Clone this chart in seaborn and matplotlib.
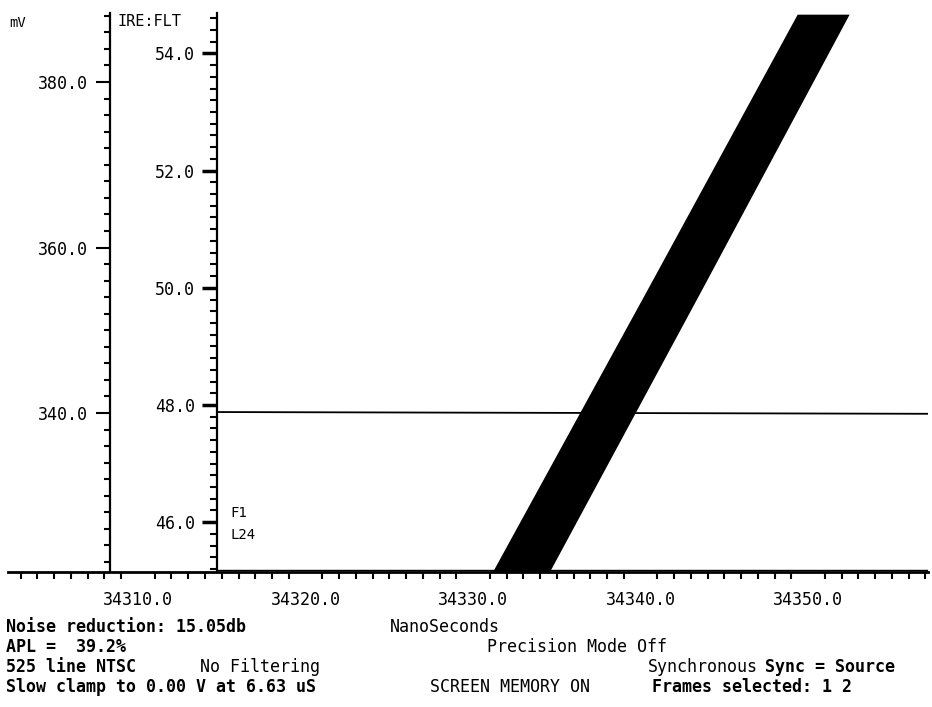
import matplotlib
matplotlib.use("Agg")
import matplotlib.pyplot as plt
from matplotlib.ticker import MultipleLocator, FormatStrFormatter
import pandas as pd
import seaborn as sns

# Axis ranges read from the scope capture
X_LIM = (34302.24, 34357.16)       # nanoseconds
MV_LIM = (320.79, 388.34)          # mV
IRE_LIM = (45.15, 54.69)           # IRE:FLT
MV_AXIS_AT = 34308.33
IRE_AXIS_AT = 34314.72

# Rising edge (drawn as a filled band) in IRE
ramp_ire = [45.15, 50.0, 54.67]
ramp_left_ns = [34331.15, 34340.45, 34349.35]
ramp_right_ns = [34334.55, 34343.70, 34352.45]

# Flat traces
flat_ns = [34314.72, 34357.16]
flat_ire = [47.88, 47.85]
low_ire = [45.19, 45.19]

W, H = 932, 707

sns.set_theme(style="white")
plt.rcParams["font.family"] = ["DejaVu Sans Mono", "DejaVu Sans"]

fig = plt.figure(figsize=(W / 100, H / 100), dpi=100)
ax = fig.add_axes([8 / W, 1 - 572 / H, 920 / W, 559 / H])
ax.set_facecolor("white")

# mV axis (main)
ax.set_xlim(*X_LIM)
ax.set_ylim(*MV_LIM)
for s in ["top", "right"]:
    ax.spines[s].set_visible(False)
ax.spines["left"].set_position(("data", MV_AXIS_AT))
ax.spines["left"].set_color("black")
ax.spines["left"].set_linewidth(1.6)
ax.spines["bottom"].set_color("black")
ax.spines["bottom"].set_linewidth(2.0)
ax.yaxis.set_major_locator(MultipleLocator(20))
ax.yaxis.set_minor_locator(MultipleLocator(2))
ax.yaxis.set_major_formatter(FormatStrFormatter("%.1f"))
ax.xaxis.set_major_locator(MultipleLocator(10))
ax.xaxis.set_minor_locator(MultipleLocator(1))
ax.xaxis.set_major_formatter(FormatStrFormatter("%.1f"))
ax.tick_params(axis="y", which="major", direction="out", length=10, width=1.5,
               pad=6, labelsize=12, colors="black")
ax.tick_params(axis="y", which="minor", direction="out", length=4, width=1.5,
               left=True, colors="black")
ax.tick_params(axis="x", which="major", direction="out", length=9, width=1.5,
               pad=5, labelsize=12, colors="black")
ax.tick_params(axis="x", which="minor", direction="out", length=5, width=1.5,
               bottom=True, colors="black")
ax.set_xlabel("")
ax.set_ylabel("")

# IRE axis (twin sharing the time axis)
ax2 = ax.twinx()
ax2.set_ylim(*IRE_LIM)
for s in ["top", "right", "bottom"]:
    ax2.spines[s].set_visible(False)
ax2.spines["left"].set_visible(True)
ax2.spines["left"].set_position(("data", IRE_AXIS_AT))
ax2.spines["left"].set_color("black")
ax2.spines["left"].set_linewidth(1.6)
ax2.yaxis.set_ticks_position("left")
ax2.yaxis.set_label_position("left")
ax2.yaxis.set_major_locator(MultipleLocator(2))
ax2.yaxis.set_minor_locator(MultipleLocator(0.2))
ax2.yaxis.set_major_formatter(FormatStrFormatter("%.1f"))
ax2.tick_params(axis="y", which="major", direction="out", length=11, width=2.5,
                pad=5, labelsize=12, colors="black")
ax2.tick_params(axis="y", which="minor", direction="out", length=5, width=1.5,
                left=True, right=False, colors="black")
ax2.grid(False)
ax.grid(False)

# Traces
ax2.fill_betweenx(ramp_ire, ramp_left_ns, ramp_right_ns, color="black", lw=0)
flat = pd.DataFrame({"ns": flat_ns, "ire": flat_ire})
low = pd.DataFrame({"ns": flat_ns, "ire": low_ire})
sns.lineplot(data=flat, x="ns", y="ire", ax=ax2, color="black", lw=1.3)
sns.lineplot(data=low, x="ns", y="ire", ax=ax2, color="black", lw=1.0)
ax2.set_ylabel("")
ax2.set_xlabel("")
ax2.set_xlim(*X_LIM)


def put(x, y, s, bold=False, size=12):
    fig.text(x / W, 1 - y / H, s, ha="left", va="center", fontsize=size,
             fontweight="bold" if bold else "normal", color="black")


put(9, 23, "mV", size=10)
put(117, 22, "IRE:FLT", size=11)
put(230, 513, "F1", size=10)
put(230, 535, "L24", size=10)

put(6, 627, "Noise reduction: 15.05db", bold=True)
put(390, 627, "NanoSeconds")
put(6, 647, "APL =  39.2%", bold=True)
put(487, 647, "Precision Mode Off")
put(6, 667, "525 line NTSC", bold=True)
put(200, 667, "No Filtering")
put(648, 667, "Synchronous")
put(765, 667, "Sync = Source", bold=True)
put(6, 687, "Slow clamp to 0.00 V at 6.63 uS", bold=True)
put(430, 687, "SCREEN MEMORY ON")
put(652, 687, "Frames selected: 1 2", bold=True)

fig.savefig("out.png", dpi=100, facecolor="white")
